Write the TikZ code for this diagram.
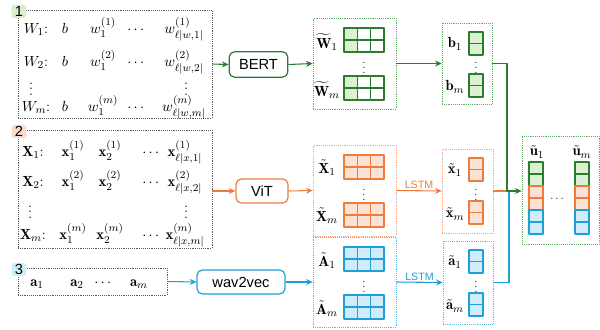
\documentclass[tikz,border=0pt]{standalone}
\usepackage{amsmath}
\usepackage{fontspec}
\setsansfont{Liberation Sans}
\usetikzlibrary{arrows.meta,fit}
\definecolor{grn}{HTML}{2B7B30}
\definecolor{grnlt}{HTML}{DAF1D2}
\definecolor{grndot}{HTML}{5FAE63}
\definecolor{org}{HTML}{EE7B3C}
\definecolor{orglt}{HTML}{FCE2D4}
\definecolor{orgdot}{HTML}{F4A582}
\definecolor{blu}{HTML}{1E9FD8}
\definecolor{blult}{HTML}{CFECFA}
\definecolor{bludot}{HTML}{5CBDE6}
\definecolor{taggrn}{HTML}{D7EFCB}
\definecolor{tagorg}{HTML}{FADCC9}
\definecolor{tagblu}{HTML}{CDEFFA}

\begin{document}
\begin{tikzpicture}[x=0.75pt,y=-0.75pt,line join=round,
  font=\fontsize{11}{13}\selectfont,inner sep=1pt,
  inbox/.style={draw=black!65,densely dotted,inner sep=0pt},
  grpbox/.style={draw=#1,densely dotted,inner sep=0pt},
  tagbox/.style={fill=#1,rounded corners=2pt,minimum width=11pt,minimum height=10pt,inner sep=0pt,font=\fontsize{11}{11}\sffamily},
  encbox/.style={draw=#1,line width=0.9pt,rounded corners=4pt,inner sep=0pt,font=\fontsize{11}{13}\sffamily},
  conn/.style={draw=#1,line width=0.8pt,-{Stealth[length=5pt,width=4.5pt]}},
  lstm/.style={text=#1,font=\fontsize{8}{9}\sffamily,inner sep=1pt},
  cell/.style={draw=#1,line width=0.9pt},
  small/.style={font=\footnotesize,inner sep=0pt}]

  \useasboundingbox (0,0) rectangle (600,329);

  % input boxes
  \node[inbox,fit={(18,10) (212,118)}] (in1) {};
  \node[inbox,fit={(18,130) (212,248)}] (in2) {};
  \node[inbox,fit={(18,268) (167,295)}] (in3) {};
  \node[tagbox=taggrn] (tag1) at (19,11.5) {1};
  \node[tagbox=tagorg] (tag2) at (19,131.5) {2};
  \node[tagbox=tagblu] (tag3) at (19,269.5) {3};

  \foreach \k/\y in {1/33,2/66,m/111} {
    \node[anchor=base] (W\k) at (36,\y) {$W_{\k}$:};
    \node[anchor=base] (b\k) at (65,\y) {$b$};
    \node[anchor=base] (wf\k) at (103,\y) {$w_1^{(\k)}$};
    \node[anchor=base] (wd\k) at (137,\y) {$\cdots$};
    \node[anchor=base] (wl\k) at (184,\y) {$w_{\ell|w,\k|}^{(\k)}$};
  }
  \node[inner sep=0pt] (Wv) at (31,85) {$\vdots$};
  \node[inner sep=0pt] (wlv) at (186,85) {$\vdots$};

  \foreach \k/\y in {1/156,2/186,m/239} {
    \node[anchor=base] (X\k) at (33,\y) {$\mathbf{X}_{\k}$:};
    \node[anchor=base] (xa\k) at (73,\y) {$\mathbf{x}_1^{(\k)}$};
    \node[anchor=base] (xb\k) at (110,\y) {$\mathbf{x}_2^{(\k)}$};
    \node[anchor=base] (xd\k) at (152,\y) {$\cdots$};
    \node[anchor=base] (xl\k) at (185,\y) {$\mathbf{x}_{\ell|x,\k|}^{(\k)}$};
  }
  \node[inner sep=0pt] (Xv) at (30,208) {$\vdots$};
  \node[inner sep=0pt] (xlv) at (186,208) {$\vdots$};

  \node[anchor=base] (a1) at (37,286) {$\mathbf{a}_1$};
  \node[anchor=base] (a2) at (77,286) {$\mathbf{a}_2$};
  \node[anchor=base] (ad) at (104,286) {$\cdots$};
  \node[anchor=base] (am) at (139,286) {$\mathbf{a}_m$};

  % encoders
  \node[encbox=grn,minimum width=44pt,minimum height=19pt] (bert) at (258.5,64.5) {BERT};
  \node[encbox=org,minimum width=39pt,minimum height=18pt] (vit) at (262,191) {ViT};
  \node[encbox=blu,minimum width=66pt,minimum height=18pt] (wav) at (241,282) {wav2vec};

  % token-level features
  \node[grpbox=grndot,fit={(313,18) (396,109)}] (wt) {};
  \node[grpbox=orgdot,fit={(313,145) (396,236)}] (xt) {};
  \node[grpbox=bludot,fit={(313,237) (396,327)}] (at) {};

  \foreach \gy in {28,76} {
    \fill[grnlt] (344,\gy) rectangle ++(13.33,24);
    \foreach \c in {0,1,2} \foreach \r in {0,1}
      \draw[cell=grn] (344+13.33*\c,\gy+12*\r) rectangle ++(13.33,12);
  }
  \foreach \gy in {155,203}
    \foreach \c in {0,1,2} \foreach \r in {0,1}
      \draw[cell=org,fill=orglt] (344+13.33*\c,\gy+12*\r) rectangle ++(13.33,12);
  \foreach \gy in {247,295}
    \foreach \c in {0,1,2} \foreach \r in {0,1}
      \draw[cell=blu,fill=blult] (344+13.33*\c,\gy+12*\r) rectangle ++(13.33,12);

  \node (lw1) at (327,42) {$\widetilde{\mathbf{W}}_1$};
  \node (lwm) at (327,90) {$\widetilde{\mathbf{W}}_m$};
  \node[small] (wtv) at (364,64) {$\vdots$};
  \node (lx1) at (327,168) {$\tilde{\mathbf{X}}_1$};
  \node (lxm) at (327,216) {$\tilde{\mathbf{X}}_m$};
  \node[small] (xtv) at (364,191) {$\vdots$};
  \node (la1) at (327,261) {$\tilde{\mathbf{A}}_1$};
  \node (lam) at (327,309) {$\tilde{\mathbf{A}}_m$};
  \node[small] (atv) at (364,283) {$\vdots$};

  % utterance-level features
  \node[grpbox=grndot,fit={(442,23) (492,104)}] (bb) {};
  \node[grpbox=orgdot,fit={(442,149) (493,233)}] (xs) {};
  \node[grpbox=bludot,fit={(443,241) (493,324)}] (as) {};

  \foreach \gy in {32,74} \foreach \r in {0,1}
    \draw[cell=grn,fill=grnlt] (469,\gy+11.5*\r) rectangle ++(14,11.5);
  \foreach \gy in {158,201} \foreach \r in {0,1}
    \draw[cell=org,fill=orglt] (469,\gy+11.5*\r) rectangle ++(14,11.5);
  \foreach \gy in {250,293} \foreach \r in {0,1}
    \draw[cell=blu,fill=blult] (469,\gy+11.5*\r) rectangle ++(14,11.5);

  \node (lb1) at (455,44) {$\mathbf{b}_1$};
  \node (lbm) at (455,87) {$\mathbf{b}_m$};
  \node[small] (bbv) at (476,64) {$\vdots$};
  \node (ls1) at (455,170) {$\tilde{\mathbf{x}}_1$};
  \node (lsm) at (455,214) {$\tilde{\mathbf{x}}_m$};
  \node[small] (xsv) at (476,191) {$\vdots$};
  \node (lt1) at (455,262) {$\tilde{\mathbf{a}}_1$};
  \node (ltm) at (455,306) {$\tilde{\mathbf{a}}_m$};
  \node[small] (asv) at (476,283) {$\vdots$};

  % fused
  \node[grpbox=grndot,fit={(522,136) (599,244)}] (ub) {};
  \foreach \ux in {529,575} {
    \foreach \r in {0,1} \draw[cell=grn,fill=grnlt] (\ux,162+12*\r) rectangle ++(14,12);
    \foreach \r in {2,3} \draw[cell=org,fill=orglt] (\ux,162+12*\r) rectangle ++(14,12);
    \foreach \r in {4,5} \draw[cell=blu,fill=blult] (\ux,162+12*\r) rectangle ++(14,12);
  }
  \node (lu1) at (537,152) {$\tilde{\mathbf{u}}_1$};
  \node (lum) at (582,152) {$\tilde{\mathbf{u}}_m$};
  \node[small] (ubd) at (558,199) {$\cdots$};

  % connectors
  \draw[conn=grn] (in1.east) -- (bert.west);
  \draw[conn=grn] (bert.east) -- (wt.west);
  \draw[conn=org] (in2.east |- vit.west) -- (vit.west);
  \draw[conn=org] (vit.east) -- (xt.west);
  \draw[conn=blu] (in3.east) -- (wav.west);
  \draw[conn=blu] (wav.east) -- (at.west);

  \draw[conn=grn] (wt.east) -- (bb.west);
  \draw[conn=org] (xt.east) -- node[above,lstm=org] (lstm1) {LSTM} (xs.west);
  \draw[conn=blu] (at.east) -- node[above,lstm=blu] (lstm2) {LSTM} (as.west);

  \coordinate (jn) at (507,191);
  \coordinate (ja) at (509,191);
  \draw[blu,line width=0.8pt] (as.east) -| (ja);
  \draw[org,line width=0.8pt] (xs.east) -- (jn);
  \draw[conn=grn] (bb.east) -| (jn) -- (ub.west |- jn);
\end{tikzpicture}
\end{document}
